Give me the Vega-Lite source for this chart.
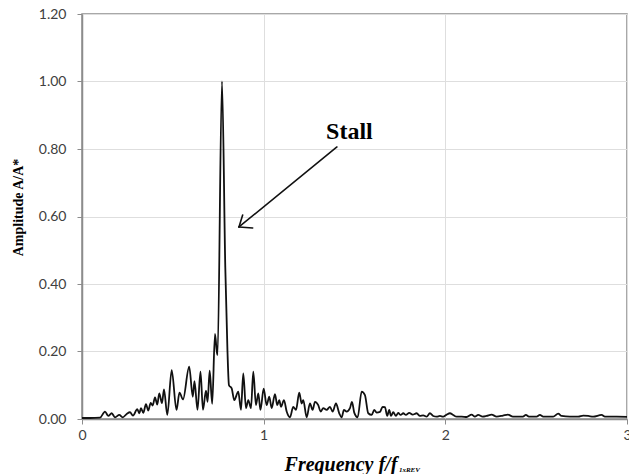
{
  "$schema": "https://vega.github.io/schema/vega-lite/v6.json",
  "width": 545,
  "height": 405,
  "autosize": {"type": "none"},
  "padding": {"left": 82, "top": 14, "right": 2, "bottom": 55},
  "background": "white",
  "config": {
    "view": {"stroke": "#8c8c8c", "strokeWidth": 1.5},
    "axis": {
      "domainColor": "#8c8c8c",
      "domainWidth": 1.5,
      "tickColor": "#8c8c8c",
      "tickSize": 5,
      "gridColor": "#dedede",
      "gridWidth": 1,
      "labelFont": "Lato",
      "labelFontSize": 14,
      "labelColor": "#404040"
    }
  },
  "datasets": {
    "spectrum": [
      {"f": 0, "A": 0.003}, {"f": 0.044, "A": 0.003}, {"f": 0.099, "A": 0.004},
      {"f": 0.1266, "A": 0.022}, {"f": 0.1447, "A": 0.009}, {"f": 0.1635, "A": 0.017},
      {"f": 0.1816, "A": 0.005}, {"f": 0.2053, "A": 0.012}, {"f": 0.224, "A": 0.005},
      {"f": 0.246, "A": 0.015}, {"f": 0.2642, "A": 0.02}, {"f": 0.2807, "A": 0.01},
      {"f": 0.3043, "A": 0.029}, {"f": 0.3154, "A": 0.017}, {"f": 0.3247, "A": 0.032},
      {"f": 0.3374, "A": 0.018}, {"f": 0.3522, "A": 0.044}, {"f": 0.3649, "A": 0.025},
      {"f": 0.3781, "A": 0.048}, {"f": 0.3891, "A": 0.04}, {"f": 0.4018, "A": 0.064},
      {"f": 0.4144, "A": 0.043}, {"f": 0.4254, "A": 0.076}, {"f": 0.4403, "A": 0.047},
      {"f": 0.4513, "A": 0.088}, {"f": 0.4695, "A": 0.012}, {"f": 0.4937, "A": 0.145},
      {"f": 0.5201, "A": 0.027}, {"f": 0.5366, "A": 0.078}, {"f": 0.5559, "A": 0.058},
      {"f": 0.59, "A": 0.155}, {"f": 0.6098, "A": 0.066}, {"f": 0.6191, "A": 0.112},
      {"f": 0.6357, "A": 0.027}, {"f": 0.6522, "A": 0.14}, {"f": 0.6659, "A": 0.027},
      {"f": 0.6824, "A": 0.084}, {"f": 0.6913, "A": 0.051}, {"f": 0.7028, "A": 0.143},
      {"f": 0.7166, "A": 0.045}, {"f": 0.732, "A": 0.252}, {"f": 0.7419, "A": 0.2},
      {"f": 0.7463, "A": 0.19}, {"f": 0.7705, "A": 1.0}, {"f": 0.7887, "A": 0.45},
      {"f": 0.8008, "A": 0.2}, {"f": 0.809, "A": 0.1}, {"f": 0.8239, "A": 0.091},
      {"f": 0.8382, "A": 0.056}, {"f": 0.8602, "A": 0.081}, {"f": 0.8751, "A": 0.027},
      {"f": 0.8877, "A": 0.135}, {"f": 0.9026, "A": 0.032}, {"f": 0.9153, "A": 0.056},
      {"f": 0.9301, "A": 0.032}, {"f": 0.9428, "A": 0.14}, {"f": 0.9576, "A": 0.041},
      {"f": 0.9703, "A": 0.076}, {"f": 0.9824, "A": 0.027}, {"f": 1.0, "A": 0.09},
      {"f": 1.0165, "A": 0.041}, {"f": 1.0308, "A": 0.066}, {"f": 1.044, "A": 0.032},
      {"f": 1.0622, "A": 0.074}, {"f": 1.0748, "A": 0.041}, {"f": 1.0859, "A": 0.056},
      {"f": 1.0952, "A": 0.036}, {"f": 1.1117, "A": 0.056}, {"f": 1.1266, "A": 0.022},
      {"f": 1.1447, "A": 0.005}, {"f": 1.1629, "A": 0.036}, {"f": 1.1778, "A": 0.027},
      {"f": 1.1959, "A": 0.078}, {"f": 1.2091, "A": 0.046}, {"f": 1.2179, "A": 0.056},
      {"f": 1.2367, "A": 0.005}, {"f": 1.2548, "A": 0.046}, {"f": 1.2697, "A": 0.027},
      {"f": 1.2823, "A": 0.051}, {"f": 1.3005, "A": 0.041}, {"f": 1.3137, "A": 0.022},
      {"f": 1.328, "A": 0.032}, {"f": 1.3467, "A": 0.027}, {"f": 1.3649, "A": 0.036},
      {"f": 1.3797, "A": 0.022}, {"f": 1.3979, "A": 0.046}, {"f": 1.4161, "A": 0.017},
      {"f": 1.4293, "A": 0.005}, {"f": 1.4419, "A": 0.027}, {"f": 1.4568, "A": 0.022},
      {"f": 1.475, "A": 0.032}, {"f": 1.486, "A": 0.051}, {"f": 1.4986, "A": 0.019},
      {"f": 1.5173, "A": 0.005}, {"f": 1.5394, "A": 0.081}, {"f": 1.5575, "A": 0.071},
      {"f": 1.5757, "A": 0.017}, {"f": 1.5944, "A": 0.012}, {"f": 1.6087, "A": 0.027},
      {"f": 1.6219, "A": 0.019}, {"f": 1.6401, "A": 0.021}, {"f": 1.6549, "A": 0.036},
      {"f": 1.6676, "A": 0.035}, {"f": 1.6802, "A": 0.009}, {"f": 1.6912, "A": 0.027},
      {"f": 1.7006, "A": 0.009}, {"f": 1.7133, "A": 0.02}, {"f": 1.7281, "A": 0.009},
      {"f": 1.7408, "A": 0.018}, {"f": 1.754, "A": 0.012}, {"f": 1.7683, "A": 0.017},
      {"f": 1.7832, "A": 0.012}, {"f": 1.8013, "A": 0.018}, {"f": 1.82, "A": 0.013},
      {"f": 1.842, "A": 0.017}, {"f": 1.8602, "A": 0.009}, {"f": 1.8784, "A": 0.011},
      {"f": 1.8971, "A": 0.007}, {"f": 1.9152, "A": 0.017}, {"f": 1.9334, "A": 0.009},
      {"f": 1.9521, "A": 0.007}, {"f": 1.9703, "A": 0.009}, {"f": 1.9884, "A": 0.007},
      {"f": 2.0072, "A": 0.013}, {"f": 2.0253, "A": 0.017}, {"f": 2.0435, "A": 0.012},
      {"f": 2.0622, "A": 0.007}, {"f": 2.0897, "A": 0.007}, {"f": 2.1172, "A": 0.006},
      {"f": 2.1447, "A": 0.013}, {"f": 2.1629, "A": 0.007}, {"f": 2.1811, "A": 0.012},
      {"f": 2.2053, "A": 0.007}, {"f": 2.2273, "A": 0.009}, {"f": 2.2548, "A": 0.013},
      {"f": 2.2823, "A": 0.007}, {"f": 2.317, "A": 0.01}, {"f": 2.3445, "A": 0.013},
      {"f": 2.372, "A": 0.007}, {"f": 2.4271, "A": 0.007}, {"f": 2.4436, "A": 0.012},
      {"f": 2.4601, "A": 0.007}, {"f": 2.5025, "A": 0.007}, {"f": 2.5206, "A": 0.012},
      {"f": 2.5388, "A": 0.007}, {"f": 2.5939, "A": 0.007}, {"f": 2.6214, "A": 0.016},
      {"f": 2.6401, "A": 0.009}, {"f": 2.6857, "A": 0.007}, {"f": 2.7314, "A": 0.007},
      {"f": 2.759, "A": 0.01}, {"f": 2.7865, "A": 0.009}, {"f": 2.814, "A": 0.007},
      {"f": 2.8602, "A": 0.012}, {"f": 2.8784, "A": 0.007}, {"f": 2.9428, "A": 0.007},
      {"f": 3.0, "A": 0.006}
    ],
    "arrow": [
      {"fa": 1.4034, "aa": 0.806, "fb": 0.864, "ab": 0.569},
      {"fa": 0.864, "aa": 0.569, "fb": 0.9395, "ab": 0.566},
      {"fa": 0.864, "aa": 0.569, "fb": 0.8844, "ab": 0.6044}
    ]
  },
  "layer": [
    {
      "data": {"name": "spectrum"},
      "mark": {"type": "line", "interpolate": "monotone", "color": "#111111", "strokeWidth": 1.8},
      "encoding": {
        "x": {
          "field": "f", "type": "quantitative",
          "scale": {"domain": [0, 3], "nice": false, "zero": false},
          "axis": {"values": [0, 1, 2, 3], "format": "d", "title": null, "labelPadding": 4, "labelFlush": false}
        },
        "y": {
          "field": "A", "type": "quantitative",
          "scale": {"domain": [0, 1.2], "nice": false},
          "axis": {
            "values": [0, 0.2, 0.4, 0.6, 0.8, 1.0, 1.2], "format": ".2f",
            "title": "Amplitude A/A*", "titleFont": "Liberation Serif", "titleFontSize": 14,
            "titleFontWeight": "bold", "titleColor": "#000000", "titlePadding": 13, "titleY": 193, "labelPadding": 11
          }
        }
      }
    },
    {
      "data": {"name": "arrow"},
      "mark": {"type": "rule", "color": "#111111", "strokeWidth": 1.6, "strokeCap": "round"},
      "encoding": {
        "x": {"field": "fa", "type": "quantitative"},
        "y": {"field": "aa", "type": "quantitative"},
        "x2": {"field": "fb"},
        "y2": {"field": "ab"}
      }
    },
    {
      "data": {"values": [{"f": 1.472, "A": 0.8296, "t": "Stall"}]},
      "mark": {"type": "text", "font": "Liberation Serif", "fontSize": 24, "fontWeight": "bold", "color": "#000000", "align": "center", "baseline": "alphabetic"},
      "encoding": {
        "x": {"field": "f", "type": "quantitative"},
        "y": {"field": "A", "type": "quantitative"},
        "text": {"field": "t"}
      }
    },
    {
      "data": {"values": [{"f": 1.4254, "A": -0.1535, "t": "Frequency f/f"}]},
      "mark": {"type": "text", "font": "Liberation Serif", "fontSize": 20, "fontWeight": "bold", "fontStyle": "italic", "color": "#000000", "align": "center", "baseline": "alphabetic"},
      "encoding": {
        "x": {"field": "f", "type": "quantitative"},
        "y": {"field": "A", "type": "quantitative"},
        "text": {"field": "t"}
      }
    },
    {
      "data": {"values": [{"f": 1.7446, "A": -0.156, "t": "1xREV"}]},
      "mark": {"type": "text", "font": "Liberation Serif", "fontSize": 7, "fontWeight": "bold", "fontStyle": "italic", "color": "#000000", "align": "left", "baseline": "alphabetic"},
      "encoding": {
        "x": {"field": "f", "type": "quantitative"},
        "y": {"field": "A", "type": "quantitative"},
        "text": {"field": "t"}
      }
    }
  ]
}
